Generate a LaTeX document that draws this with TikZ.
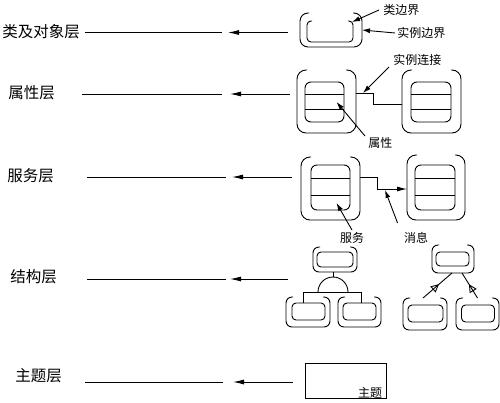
\documentclass[tikz,border=0pt]{standalone}
\usepackage{fontspec}
\newfontfamily\cjk{Noto Sans CJK SC}
\usetikzlibrary{arrows.meta,calc,decorations.markings}

\tikzset{
  layer/.style={anchor=west,inner sep=0pt,font=\cjk\fontsize{15.5}{17}\selectfont},
  note/.style={inner sep=0pt,font=\cjk\fontsize{12}{14}\selectfont},
  outerbox/.style={inner sep=0pt,outer sep=0pt},
  innerbox/.style={draw,rounded corners=5pt,inner sep=0pt,outer sep=0pt},
  layerarrow/.style={-{Latex[length=11pt,width=5pt]}},
  callout/.style={-{Latex[length=8pt,width=5pt]}},
  genspec/.style={postaction={decorate},
    decoration={markings,mark=at position 0.55 with {\arrow{Triangle[open,length=8pt,width=8pt]}}}}
}

% open-topped rounded boundary round a node
\newcommand{\openbox}[2]{%
  \draw[rounded corners=#2] ([xshift=#2+1pt]#1.north west) -- (#1.north west)
    -- (#1.south west) -- (#1.south east) -- (#1.north east) -- ([xshift=-#2-1pt]#1.north east);}
% three compartments
\newcommand{\compart}[1]{%
  \draw ($(#1.north west)!0.3!(#1.south west)$) -- ($(#1.north east)!0.3!(#1.south east)$);
  \draw ($(#1.north west)!0.68!(#1.south west)$) -- ($(#1.north east)!0.68!(#1.south east)$);}

\begin{document}
\begin{tikzpicture}[x=1pt,y=-1pt,line width=0.9pt]
  \useasboundingbox (0,0) rectangle (500,402);

  % layer labels and lines
  \node[layer] (lyrcls) at (2,32) {类及对象层};
  \node[layer] (lyrattr) at (8,93) {属性层};
  \node[layer] (lyrsvc) at (7,176) {服务层};
  \node[layer] (lyrstr) at (10,277) {结构层};
  \node[layer] (lyrsubj) at (15,376) {主题层};

  \coordinate (l1a) at (85,32.5);  \coordinate (l1b) at (222,32.5);
  \coordinate (l1c) at (228,32.5); \coordinate (l1d) at (288,32.5);
  \coordinate (l2a) at (82,94);    \coordinate (l2b) at (222,94);
  \coordinate (l2c) at (230,94);   \coordinate (l2d) at (290,94);
  \coordinate (l3a) at (87,177);   \coordinate (l3b) at (226,177);
  \coordinate (l3c) at (232,177);  \coordinate (l3d) at (292,177);
  \coordinate (l4a) at (87,279);   \coordinate (l4b) at (226,279);
  \coordinate (l4c) at (230,279);  \coordinate (l4d) at (288,279);
  \coordinate (l5a) at (85,382);   \coordinate (l5b) at (223,382);
  \coordinate (l5c) at (233,382);  \coordinate (l5d) at (293,382);

  \draw (l1a) -- (l1b);  \draw[layerarrow] (l1d) -- (l1c);
  \draw (l2a) -- (l2b);  \draw[layerarrow] (l2d) -- (l2c);
  \draw (l3a) -- (l3b);  \draw[layerarrow] (l3d) -- (l3c);
  \draw (l4a) -- (l4b);  \draw[layerarrow] (l4d) -- (l4c);
  \draw (l5a) -- (l5b);  \draw[layerarrow] (l5d) -- (l5c);

  % class & object
  \node[outerbox,minimum width=62,minimum height=34] (co) at (331,30) {};
  \node[outerbox,minimum width=46,minimum height=21] (ci) at (330,31.5) {};
  \openbox{co}{8pt}
  \openbox{ci}{4pt}
  \node[note,anchor=west] (lblcls) at (383,10) {类边界};
  \node[note,anchor=west] (lblinst) at (397,33) {实例边界};
  \draw[callout] ([xshift=-4pt]lblcls.west) -- ([xshift=-1pt,yshift=-1pt]ci.north east);
  \draw[callout] ([xshift=-2pt]lblinst.west) -- (co.east);

  % attribute layer
  \node[outerbox,minimum width=59,minimum height=63] (attrA) at (326.5,101.5) {};
  \node[innerbox,minimum width=39,minimum height=40,rounded corners=6pt] (attrAi) at (324.5,102) {};
  \node[outerbox,minimum width=59,minimum height=63] (attrB) at (431.5,101.5) {};
  \node[innerbox,minimum width=40,minimum height=40,rounded corners=6pt] (attrBi) at (431,102) {};
  \openbox{attrA}{9pt}
  \openbox{attrB}{9pt}
  \compart{attrAi}
  \compart{attrBi}
  \draw (attrA.east |- 0,93) -- (373,93) -- (373,104) -- (attrB.west |- 0,104);
  \coordinate (icpt) at (363,93);
  \node[note,anchor=west] (lblic) at (393,60) {实例连接};
  \node[note,anchor=west] (lblattr) at (368,143) {属性};
  \draw[callout] ([xshift=-4pt,yshift=-1pt]lblic.south west) -- (icpt);
  \draw[callout] ([xshift=-3pt,yshift=1pt]lblattr.north west) -- ([xshift=12pt]attrAi.center);

  % service layer
  \node[outerbox,minimum width=59,minimum height=63] (svcA) at (330.5,188.5) {};
  \node[innerbox,minimum width=39,minimum height=45,rounded corners=6pt] (svcAi) at (330.5,187.5) {};
  \node[outerbox,minimum width=58,minimum height=65] (svcB) at (436,187.5) {};
  \node[innerbox,minimum width=40,minimum height=45,rounded corners=6pt] (svcBi) at (435,187.5) {};
  \openbox{svcA}{9pt}
  \openbox{svcB}{9pt}
  \compart{svcAi}
  \compart{svcBi}
  \draw[-{Latex[length=10pt,width=5pt]}] (svcA.east |- 0,177) -- (377,177) -- (377,189) -- (svcB.west |- 0,189);
  \coordinate (msgpt) at (385,190);
  \node[note] (lblsvc) at (352,238) {服务};
  \node[note] (lblmsg) at (416,238) {消息};
  \draw[callout] ([yshift=2pt]lblsvc.north) -- ([xshift=6pt,yshift=-15.5pt]svcAi.center);
  \draw[callout] ([xshift=-6pt,yshift=9pt]lblmsg.north west) -- (msgpt);

  % structure layer: whole-part
  \node[outerbox,minimum width=44,minimum height=25] (wpP) at (335,259.5) {};
  \node[innerbox,minimum width=36,minimum height=15,rounded corners=4pt] (wpPi) at (335,259.5) {};
  \node[outerbox,minimum width=44,minimum height=30] (wpL) at (308,312) {};
  \node[innerbox,minimum width=33,minimum height=17,rounded corners=4pt] (wpLi) at (308.5,311.5) {};
  \node[outerbox,minimum width=43,minimum height=30] (wpR) at (359.5,312) {};
  \node[innerbox,minimum width=33,minimum height=17,rounded corners=4pt] (wpRi) at (359.5,311.5) {};
  \openbox{wpP}{6pt}
  \openbox{wpL}{6pt}
  \openbox{wpR}{6pt}
  \coordinate (wpC) at (333,292);
  \draw ([xshift=-2pt]wpP.south) -- (wpC |- 0,277);
  \draw ([xshift=-15pt]wpC) arc[start angle=180,end angle=0,radius=15pt];
  \draw (wpLi.north -| 303,0) -- (303,292) -- (361,292) -- (wpRi.north -| 361,0);

  % structure layer: gen-spec
  \node[outerbox,minimum width=42,minimum height=28] (gsP) at (453,259) {};
  \node[innerbox,minimum width=33,minimum height=14,rounded corners=4pt] (gsPi) at (452.5,259) {};
  \node[outerbox,minimum width=44,minimum height=32] (gsL) at (425,314) {};
  \node[innerbox,minimum width=35,minimum height=17,rounded corners=4pt] (gsLi) at (425.5,313.5) {};
  \node[outerbox,minimum width=43,minimum height=32] (gsR) at (477.5,314) {};
  \node[innerbox,minimum width=33,minimum height=17,rounded corners=4pt] (gsRi) at (478,313.5) {};
  \openbox{gsP}{6pt}
  \openbox{gsL}{6pt}
  \openbox{gsR}{6pt}
  \draw[genspec] ([xshift=-2pt]gsL.north) -- ([xshift=-1pt]gsP.south);
  \draw[genspec] (gsR.north) -- ([xshift=9pt]gsP.south);

  % subject layer
  \node[draw,inner sep=0pt,minimum width=81,minimum height=35] (subj) at (345.5,380.5) {};
  \node[note,anchor=south east] (lblsubj) at ([xshift=-4pt]subj.south east) {主题};
\end{tikzpicture}
\end{document}
